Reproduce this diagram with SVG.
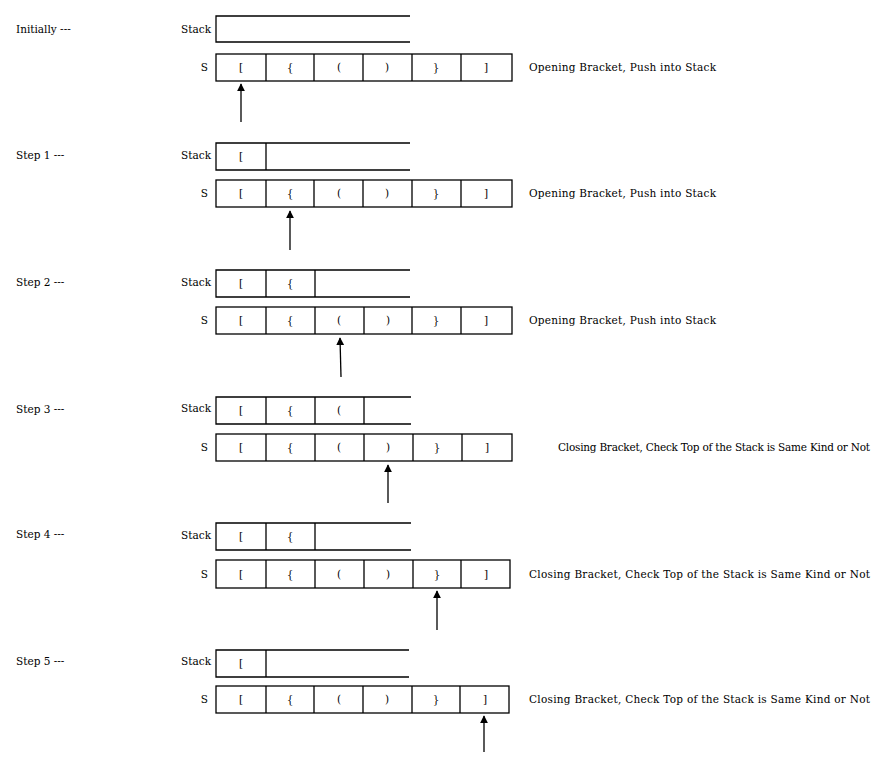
<svg xmlns="http://www.w3.org/2000/svg" width="879" height="768" viewBox="0 0 879 768">
<defs>
<style>
text{font-family:"DejaVu Serif","Liberation Serif",serif;font-size:10.5px;fill:#000}
.c{text-anchor:middle}
.r{text-anchor:end}
.b{fill:none;stroke:#000;stroke-width:1.3}
.a{stroke:#000;stroke-width:1.3;fill:none;marker-end:url(#ah)}
</style>
<marker id="ah" viewBox="0 0 10 10" refX="9" refY="5" markerWidth="8" markerHeight="9" markerUnits="userSpaceOnUse" orient="auto"><path d="M0,0L10,5L0,10z" fill="#000"/></marker>
</defs>
<rect width="879" height="768" fill="#fff"/>

<g id="step0">
<text x="16" y="33">Initially ---</text>
<text x="211" y="33" class="r">Stack</text>
<path class="b" d="M410,16H216V42H410"/>
<text x="208" y="71" class="r">S</text>
<rect class="b" x="216" y="54" width="296" height="27"/>
<path class="b" d="M266,54V81M314,54V81M363,54V81M412,54V81M461,54V81"/>
<text x="241" y="71" class="c">[</text><text x="290" y="71" class="c">{</text><text x="339" y="71" class="c">(</text><text x="387" y="71" class="c">)</text><text x="436" y="71" class="c">}</text><text x="486" y="71" class="c">]</text>
<text x="529" y="71" textLength="187">Opening Bracket, Push into Stack</text>
</g>

<g id="step1">
<text x="16" y="159">Step 1 ---</text>
<text x="211" y="159" class="r">Stack</text>
<path class="b" d="M410,143H216V170H410M266,143V170"/>
<text x="241" y="160" class="c">[</text>
<text x="208" y="197" class="r">S</text>
<rect class="b" x="216" y="180" width="296" height="27"/>
<path class="b" d="M266,180V207M314,180V207M363,180V207M412,180V207M461,180V207"/>
<text x="241" y="197" class="c">[</text><text x="290" y="197" class="c">{</text><text x="339" y="197" class="c">(</text><text x="387" y="197" class="c">)</text><text x="436" y="197" class="c">}</text><text x="486" y="197" class="c">]</text>
<text x="529" y="197" textLength="187">Opening Bracket, Push into Stack</text>
</g>

<g id="step2">
<text x="16" y="286">Step 2 ---</text>
<text x="211" y="286" class="r">Stack</text>
<path class="b" d="M410,270H216V297H410M266,270V297M315,270V297"/>
<text x="241" y="287" class="c">[</text><text x="290" y="287" class="c">{</text>
<text x="208" y="324" class="r">S</text>
<rect class="b" x="216" y="307" width="296" height="27"/>
<path class="b" d="M266,307V334M315,307V334M364,307V334M412,307V334M461,307V334"/>
<text x="241" y="324" class="c">[</text><text x="290" y="324" class="c">{</text><text x="339" y="324" class="c">(</text><text x="388" y="324" class="c">)</text><text x="436" y="324" class="c">}</text><text x="486" y="324" class="c">]</text>
<text x="529" y="324" textLength="187">Opening Bracket, Push into Stack</text>
</g>

<g id="step3">
<text x="16" y="413">Step 3 ---</text>
<text x="211" y="412" class="r">Stack</text>
<path class="b" d="M411,397H216V424H411M266,397V424M315,397V424M364,397V424"/>
<text x="241" y="414" class="c">[</text><text x="290" y="414" class="c">{</text><text x="339" y="414" class="c">(</text>
<text x="208" y="451" class="r">S</text>
<rect class="b" x="216" y="434" width="296" height="27"/>
<path class="b" d="M266,434V461M315,434V461M364,434V461M413,434V461M462,434V461"/>
<text x="241" y="451" class="c">[</text><text x="290" y="451" class="c">{</text><text x="339" y="451" class="c">(</text><text x="388" y="451" class="c">)</text><text x="437" y="451" class="c">}</text><text x="487" y="451" class="c">]</text>
<text x="558" y="451" textLength="312">Closing Bracket, Check Top of the Stack is Same Kind or Not</text>
</g>

<g id="step4">
<text x="16" y="538">Step 4 ---</text>
<text x="211" y="539" class="r">Stack</text>
<path class="b" d="M411,523H216V550H411M266,523V550M315,523V550"/>
<text x="241" y="540" class="c">[</text><text x="290" y="540" class="c">{</text>
<text x="208" y="578" class="r">S</text>
<rect class="b" x="216" y="560" width="294" height="28"/>
<path class="b" d="M266,560V588M315,560V588M364,560V588M413,560V588M461,560V588"/>
<text x="241" y="578" class="c">[</text><text x="290" y="578" class="c">{</text><text x="339" y="578" class="c">(</text><text x="388" y="578" class="c">)</text><text x="437" y="578" class="c">}</text><text x="486" y="578" class="c">]</text>
<text x="529" y="578" textLength="341">Closing Bracket, Check Top of the Stack is Same Kind or Not</text>
</g>

<g id="step5">
<text x="16" y="665">Step 5 ---</text>
<text x="211" y="665" class="r">Stack</text>
<path class="b" d="M409,650H216V677H409M266,650V677"/>
<text x="241" y="667" class="c">[</text>
<text x="208" y="703" class="r">S</text>
<rect class="b" x="216" y="686" width="293" height="27"/>
<path class="b" d="M266,686V713M314,686V713M363,686V713M412,686V713M460,686V713"/>
<text x="241" y="703" class="c">[</text><text x="290" y="703" class="c">{</text><text x="339" y="703" class="c">(</text><text x="387" y="703" class="c">)</text><text x="436" y="703" class="c">}</text><text x="485" y="703" class="c">]</text>
<text x="529" y="703" textLength="341">Closing Bracket, Check Top of the Stack is Same Kind or Not</text>
</g>

<g id="connectors">
<line class="a" x1="241" y1="122" x2="241" y2="84"/>
<line class="a" x1="290" y1="250" x2="290" y2="211"/>
<line class="a" x1="341" y1="377" x2="340" y2="338"/>
<line class="a" x1="388" y1="503" x2="388" y2="465"/>
<line class="a" x1="437" y1="630" x2="437" y2="591"/>
<line class="a" x1="484" y1="752" x2="484" y2="716"/>
</g>
</svg>
